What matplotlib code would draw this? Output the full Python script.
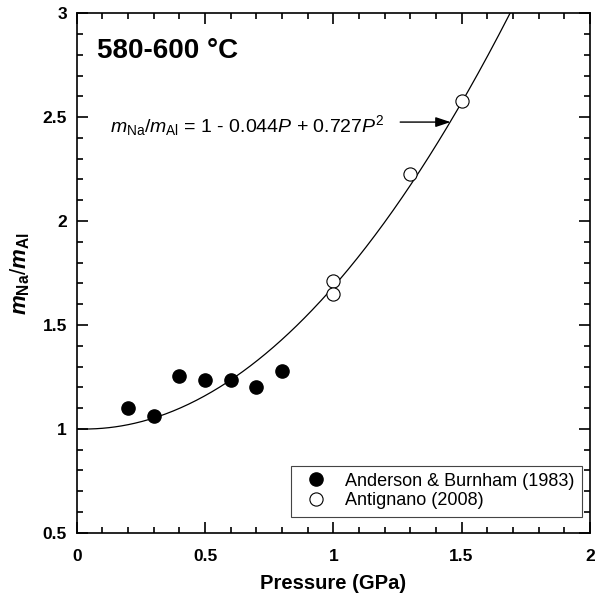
import numpy as np
import matplotlib.pyplot as plt
from matplotlib.ticker import MultipleLocator

plt.rcParams['font.family'] = ['Liberation Sans', 'DejaVu Sans']
plt.rcParams['mathtext.fontset'] = 'custom'
plt.rcParams['mathtext.rm'] = 'Liberation Sans'
plt.rcParams['mathtext.it'] = 'Liberation Sans:italic'
plt.rcParams['mathtext.bf'] = 'Liberation Sans:bold'
plt.rcParams['mathtext.bfit'] = 'Liberation Sans:italic:bold'

# Anderson & Burnham (1983)
ab_p = [0.2, 0.3, 0.4, 0.5, 0.6, 0.7, 0.8]
ab_r = [1.10, 1.06, 1.255, 1.235, 1.235, 1.20, 1.28]
# Antignano (2008)
an_p = [1.0, 1.0, 1.3, 1.5]
an_r = [1.71, 1.65, 2.225, 2.575]
# fit coefficients
c0, c1, c2 = 1.0, -0.044, 0.727

fig = plt.figure(figsize=(6, 5.98), dpi=100)
ax = fig.add_axes([0.128, 0.109, 0.855, 0.869])

p = np.linspace(0, 2, 400)
ax.plot(p, c0 + c1 * p + c2 * p**2, color="black", lw=0.9)

ax.plot(ab_p, ab_r, "o", color="black", ms=9.5, label="Anderson & Burnham (1983)")
ax.plot(an_p, an_r, "o", mfc="white", mec="black", mew=0.8, ms=9.5,
        label="Antignano (2008)")

ax.set_xlim(0, 2)
ax.set_ylim(0.5, 3)
ax.xaxis.set_minor_locator(MultipleLocator(0.1))
ax.yaxis.set_minor_locator(MultipleLocator(0.1))
ax.set_xticks([0, 0.5, 1, 1.5, 2], ["0", "0.5", "1", "1.5", "2"])
ax.set_yticks([0.5, 1, 1.5, 2, 2.5, 3], ["0.5", "1", "1.5", "2", "2.5", "3"])
ax.tick_params(which="both", direction="in", top=True, right=True, width=1.2)
ax.tick_params(which="major", length=8, labelsize=12.5, pad=7)
ax.tick_params(axis="x", which="major", pad=12)
ax.tick_params(which="minor", length=4)
for lab in ax.get_xticklabels() + ax.get_yticklabels():
    lab.set_fontweight("bold")
for s in ax.spines.values():
    s.set_linewidth(1.2)

ax.set_xlabel("Pressure (GPa)", fontsize=14.5, fontweight="bold", labelpad=7)
ax.set_ylabel(r"$\mathbfit{m}_{\mathbf{Na}}/\mathbfit{m}_{\mathbf{Al}}$",
              fontsize=16, labelpad=8)

ax.text(0.08, 2.82, "580-600 °C", fontsize=20, fontweight="bold", va="center")
ax.text(0.13, 2.46, r"$m_{\mathrm{Na}}/m_{\mathrm{Al}}$ = 1 - 0.044$P$ + 0.727$P^2$",
        fontsize=14, va="center")
ax.annotate("", xy=(1.468, 2.476), xytext=(1.25, 2.476),
            arrowprops=dict(arrowstyle="-|>,head_length=0.9,head_width=0.3",
                            color="black", lw=1))

leg = ax.legend(loc="lower right", bbox_to_anchor=(0.984, 0.031), fontsize=13,
                fancybox=False, edgecolor="#444444", framealpha=1,
                handletextpad=0.6, borderpad=0.4, labelspacing=0.15,
                borderaxespad=0)
leg.get_frame().set_linewidth(0.8)

fig.savefig("out.png", dpi=100)
plt.close(fig)
